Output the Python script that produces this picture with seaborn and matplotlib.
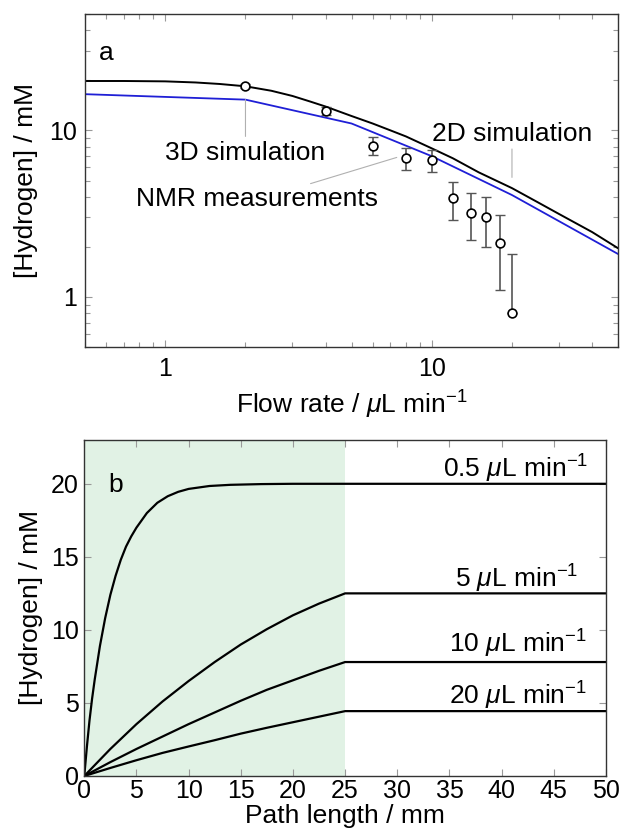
import numpy as np
import pandas as pd
import matplotlib
matplotlib.use("Agg")
import matplotlib.pyplot as plt
from matplotlib.ticker import LogLocator, NullFormatter, FixedLocator
import seaborn as sns

# ---------------- data (panel a) ----------------
sim2d_flow = [0.5, 0.7, 1.0, 1.3, 1.6, 2.0, 2.5, 3.0, 3.5, 4.0, 5.0, 6.0, 7.0, 8.0,
              10.0, 12.0, 15.0, 20.0, 25.0, 30.0, 40.0, 50.0]
sim2d_h2 = [19.8, 19.8, 19.7, 19.4, 19.0, 18.4, 17.3, 16.1, 14.9, 13.9, 12.2, 11.0, 10.0, 9.2,
            7.8, 6.8, 5.6, 4.5, 3.7, 3.15, 2.45, 1.96]
sim3d_flow = [0.5, 2.0, 5.0, 10.0, 20.0, 50.0]
sim3d_h2 = [16.5, 15.3, 11.0, 7.0, 4.09, 1.81]
nmr_flow = [2, 4, 6, 8, 10, 12, 14, 16, 18, 20]
nmr_h2 = [18.4, 13.1, 8.1, 6.8, 6.6, 3.9, 3.2, 3.0, 2.1, 0.8]
nmr_err = [0.5, 0.8, 1.0, 1.0, 1.0, 1.0, 1.0, 1.0, 1.0, 1.0]

# ---------------- data (panel b) ----------------
path_05 = [0, 0.25, 0.5, 0.75, 1, 1.5, 2, 2.5, 3, 3.5, 4, 4.5, 5, 6, 7, 8, 9, 10,
           12, 14, 17, 20, 25, 50]
h2_05 = [0, 2.0, 3.8, 5.3, 6.6, 8.9, 10.8, 12.4, 13.7, 14.8, 15.7, 16.4, 17.0, 18.0,
         18.7, 19.15, 19.45, 19.65, 19.85, 19.93, 19.98, 20, 20, 20]
path_lin = [0, 2.5, 5, 7.5, 10, 12.5, 15, 17.5, 20, 22.5, 25, 50]
h2_5 = [0, 1.85, 3.55, 5.1, 6.5, 7.8, 9.0, 10.05, 11.0, 11.8, 12.5, 12.5]
h2_10 = [0, 0.95, 1.85, 2.7, 3.55, 4.35, 5.15, 5.9, 6.55, 7.2, 7.8, 7.8]
h2_20 = [0, 0.55, 1.08, 1.58, 2.02, 2.45, 2.9, 3.3, 3.68, 4.06, 4.44, 4.44]
flow_labels = ["0.5", "5", "10", "20"]

sns.set_theme(style="ticks")
plt.rcParams["font.family"] = ["Liberation Sans", "DejaVu Sans"]
plt.rcParams["mathtext.fontset"] = "custom"
plt.rcParams["mathtext.rm"] = "Liberation Sans"
plt.rcParams["mathtext.it"] = "Liberation Sans:italic"
plt.rcParams["mathtext.bf"] = "Liberation Sans:bold"
plt.rcParams["axes.edgecolor"] = "#333333"
plt.rcParams["axes.linewidth"] = 1.0
plt.rcParams["text.color"] = "black"
plt.rcParams["axes.labelcolor"] = "black"

FT = 18   # tick labels
FL = 19   # axis labels
FA = 19   # annotations
FP = 19   # panel letters
unit = r"$\mu$L min$^{-1}$"

fig = plt.figure(figsize=(6.22, 8.39), dpi=100)
axa = fig.add_axes([0.1367, 0.5864, 0.8569, 0.3969])
axb = fig.add_axes([0.1355, 0.0751, 0.8387, 0.4005])

# ---------- panel a ----------
axa.set_xscale("log")
axa.set_yscale("log")
df2 = pd.DataFrame({"flow": sim2d_flow, "h2": sim2d_h2})
df3 = pd.DataFrame({"flow": sim3d_flow, "h2": sim3d_h2})
sns.lineplot(data=df2, x="flow", y="h2", ax=axa, color="black", lw=1.4,
             sort=False, estimator=None)
sns.lineplot(data=df3, x="flow", y="h2", ax=axa, color="#1f1fd6", lw=1.3,
             sort=False, estimator=None)
lo = [0 if v - e <= 0 else e for v, e in zip(nmr_h2, nmr_err)]
axa.errorbar(nmr_flow, nmr_h2, yerr=[lo, nmr_err], fmt="none", ecolor="#555555",
             elinewidth=1.2, capsize=3.5, capthick=1.0, zorder=3)
dfn = pd.DataFrame({"flow": nmr_flow, "h2": nmr_h2})
sns.scatterplot(data=dfn, x="flow", y="h2", ax=axa, marker="o", s=40,
                facecolor="white", edgecolor="black", linewidth=1.2, zorder=4)
axa.set_xlim(0.5, 50)
axa.set_ylim(0.5, 50)
axa.xaxis.set_major_locator(FixedLocator([1, 10]))
axa.yaxis.set_major_locator(FixedLocator([1, 10]))
axa.set_xticklabels(["1", "10"])
axa.set_yticklabels(["1", "10"])
axa.xaxis.set_minor_locator(LogLocator(base=10, subs=np.arange(2, 10)))
axa.yaxis.set_minor_locator(LogLocator(base=10, subs=np.arange(2, 10)))
axa.xaxis.set_minor_formatter(NullFormatter())
axa.yaxis.set_minor_formatter(NullFormatter())
axa.set_xlabel("Flow rate / " + unit, fontsize=FL, labelpad=6)
axa.set_ylabel("[Hydrogen] / mM", fontsize=FL, labelpad=8)

ann_kw = dict(arrowprops=dict(arrowstyle="-", color="#b0b0b0", lw=0.8, shrinkA=0, shrinkB=0))
axa.annotate("", xy=(2.0, 15.3), xytext=(2.0, 9.2), **ann_kw)
axa.text(1.99, 7.28, "3D simulation", fontsize=FA, ha="center", va="center")
axa.annotate("", xy=(7.39, 6.88), xytext=(3.51, 4.79), **ann_kw)
axa.text(2.21, 3.89, "NMR measurements", fontsize=FA, ha="center", va="center")
axa.annotate("", xy=(20, 5.22), xytext=(20, 7.73), **ann_kw)
axa.text(20, 9.5, "2D simulation", fontsize=FA, ha="center", va="center")
axa.text(0.040, 0.883, "a", transform=axa.transAxes, fontsize=FP, ha="center", va="center")

# ---------- panel b ----------
axb.axvspan(0, 25, color="#e1f2e5", lw=0, zorder=0)
curves = [(path_05, h2_05), (path_lin, h2_5), (path_lin, h2_10), (path_lin, h2_20)]
for (px, py) in curves:
    d = pd.DataFrame({"path": px, "h2": py})
    sns.lineplot(data=d, x="path", y="h2", ax=axb, color="black", lw=1.6,
                 sort=False, estimator=None)
lab_pos = [(48.3, 20.4), (47.4, 12.87), (48.2, 8.43), (48.2, 4.9)]
for lab, (lx, ly) in zip(flow_labels, lab_pos):
    axb.text(lx, ly, lab + r" " + unit, fontsize=FA, ha="right", va="baseline")
axb.set_xlim(0, 50)
axb.set_ylim(0, 23)
axb.set_xticks(np.arange(0, 51, 5))
axb.set_yticks([0, 5, 10, 15, 20])
axb.set_xlabel("Path length / mm", fontsize=FL, labelpad=1)
axb.set_ylabel("[Hydrogen] / mM", fontsize=FL, labelpad=6)
axb.text(0.060, 0.866, "b", transform=axb.transAxes, fontsize=FP, ha="center", va="center")

for ax in (axa, axb):
    ax.tick_params(which="both", direction="in", top=True, right=True,
                   color="#999999", labelsize=FT, labelcolor="black")
    ax.tick_params(which="major", length=5, width=0.8)
    ax.tick_params(which="minor", length=3.5, width=0.8)
    for s in ax.spines.values():
        s.set_visible(True)
axa.tick_params(axis="x", which="major", pad=7)
axa.tick_params(axis="y", which="major", pad=6)
axb.tick_params(axis="x", which="major", pad=2)
axb.tick_params(axis="y", which="major", pad=4)

fig.savefig("out.png", dpi=100)
